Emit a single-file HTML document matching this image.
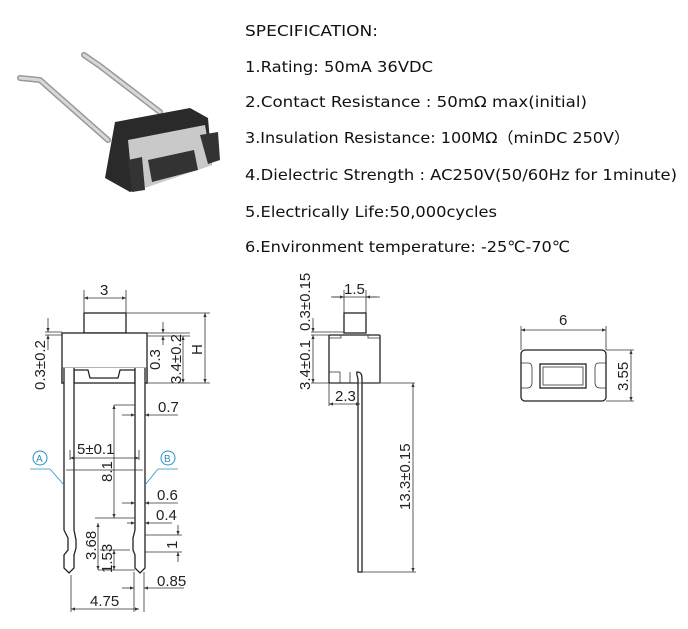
<!DOCTYPE html>
<html><head><meta charset="utf-8"><style>
html,body{margin:0;padding:0;background:#fff;width:688px;height:629px;overflow:hidden}
svg{display:block}
.t{font-family:"DejaVu Sans","Liberation Sans",sans-serif;font-size:15.5px;fill:#111}
.d{font-family:"Liberation Sans",sans-serif;font-size:15px;fill:#222}
.l{stroke:#333;stroke-width:0.8;fill:none}
.k{stroke:#222;stroke-width:1.3;fill:#fff}
</style></head><body>
<svg width="688" height="629" viewBox="0 0 688 629" xmlns="http://www.w3.org/2000/svg">
<defs>
<marker id="a" viewBox="0 0 10 10" refX="10" refY="5" markerWidth="7" markerHeight="5" orient="auto-start-reverse"><path d="M0,1 L10,5 L0,9 z" fill="#333"/></marker>
</defs>
<!-- photo -->
<g>
<path d="M20,78 L40,80 L108,140" stroke="#999" stroke-width="6" fill="none" stroke-linecap="round"/>
<path d="M20,78 L40,80 L108,140" stroke="#d8d8d8" stroke-width="3" fill="none" stroke-linecap="round"/>
<path d="M84,55 L100,66 L160,112" stroke="#999" stroke-width="6" fill="none" stroke-linecap="round"/>
<path d="M84,55 L100,66 L160,112" stroke="#d8d8d8" stroke-width="3" fill="none" stroke-linecap="round"/>
<path d="M115,122 L190,108 L208,118 L212,165 L130,192 L105,178 Z" fill="#2a2a2a"/>
<path d="M128,140 L205,125 L212,165 L133,192 Z" fill="#c9c9c9"/>
<path d="M148,160 L194,150 L198,170 L152,182 Z" fill="#333"/>
<path d="M128,160 L142,157 L145,190 L132,192 Z" fill="#333"/>
<path d="M200,135 L218,132 L220,160 L208,164 Z" fill="#333"/>
</g>
<!-- spec text -->
<text class="t" x="245" y="36" textLength="133" lengthAdjust="spacingAndGlyphs">SPECIFICATION:</text>
<text class="t" x="245" y="72" textLength="188" lengthAdjust="spacingAndGlyphs">1.Rating: 50mA 36VDC</text>
<text class="t" x="245" y="107" textLength="342" lengthAdjust="spacingAndGlyphs">2.Contact Resistance : 50mΩ max(initial)</text>
<text class="t" x="245" y="143" textLength="385" lengthAdjust="spacingAndGlyphs">3.Insulation Resistance: 100MΩ（minDC 250V）</text>
<text class="t" x="245" y="180" textLength="432" lengthAdjust="spacingAndGlyphs">4.Dielectric Strength : AC250V(50/60Hz for 1minute)</text>
<text class="t" x="245" y="217" textLength="252" lengthAdjust="spacingAndGlyphs">5.Electrically Life:50,000cycles</text>
<text class="t" x="245" y="252" textLength="325" lengthAdjust="spacingAndGlyphs">6.Environment temperature: -25℃-70℃</text>

<!-- left drawing -->
<g>
<rect class="k" x="84" y="313" width="42" height="20"/>
<rect class="k" x="62" y="333" width="85" height="50"/>
<line class="l" x1="62" y1="368" x2="147" y2="368"/>
<path class="k" d="M62,368 L62,383 L74,383 L74,370 L88,370 L90,378 L118,378 L120,370 L135,370 L135,383 L147,383 L147,368" fill="#fff"/>
<path class="k" d="M64,368 L64,530 L68,538 L68,550 L64,555 L64,568 L69,573 L74,568 L74,555 L76,548 L76,540 L74,530 L74,368" />
<path class="k" d="M135,368 L135,530 L133,538 L133,550 L135,555 L135,568 L140,573 L145,568 L145,555 L145,530 L145,368" />
<line class="l" x1="66" y1="470" x2="143" y2="470"/>
<!-- dims -->
<line class="l" x1="84" y1="290" x2="84" y2="313"/><line class="l" x1="126" y1="290" x2="126" y2="313"/>
<line class="l" x1="84" y1="298" x2="126" y2="298" marker-start="url(#a)" marker-end="url(#a)"/>
<text class="d" x="100" y="295">3</text>
<line class="l" x1="126" y1="313" x2="210" y2="313"/>
<line class="l" x1="147" y1="383" x2="210" y2="383"/>
<line class="l" x1="205" y1="313" x2="205" y2="383" marker-start="url(#a)" marker-end="url(#a)"/>
<text class="d" transform="translate(202,355) rotate(-90)">H</text>
<line class="l" x1="147" y1="333" x2="190" y2="333"/>
<line class="l" x1="147" y1="336" x2="190" y2="336"/>
<line class="l" x1="163" y1="322" x2="163" y2="333" marker-end="url(#a)"/>
<line class="l" x1="163" y1="345" x2="163" y2="336" marker-end="url(#a)"/>
<text class="d" transform="translate(160,370) rotate(-90)">0.3</text>
<line class="l" x1="183" y1="336" x2="183" y2="383" marker-start="url(#a)" marker-end="url(#a)"/>
<text class="d" transform="translate(181,384) rotate(-90)">3.4±0.2</text>
<line class="l" x1="45" y1="332" x2="62" y2="332"/><line class="l" x1="45" y1="335" x2="62" y2="335"/>
<line class="l" x1="48" y1="318" x2="48" y2="332" marker-end="url(#a)"/>
<line class="l" x1="48" y1="350" x2="48" y2="335" marker-end="url(#a)"/>
<text class="d" transform="translate(45,390) rotate(-90)">0.3±0.2</text>
<line class="l" x1="114" y1="405" x2="135" y2="405"/>
<line class="l" x1="114" y1="405" x2="114" y2="518" marker-start="url(#a)" marker-end="url(#a)"/>
<text class="d" transform="translate(112,482) rotate(-90)">8.1</text>
<line class="l" x1="122" y1="415" x2="135" y2="415" marker-end="url(#a)"/>
<line class="l" x1="178" y1="415" x2="145" y2="415" marker-end="url(#a)"/>
<text class="d" x="158" y="412">0.7</text>
<line class="l" x1="70" y1="450" x2="70" y2="460"/><line class="l" x1="139" y1="450" x2="139" y2="460"/>
<line class="l" x1="70" y1="458" x2="139" y2="458" marker-start="url(#a)" marker-end="url(#a)"/>
<text class="d" x="77" y="454">5±0.1</text>
<line class="l" x1="122" y1="503" x2="135" y2="503" marker-end="url(#a)"/>
<line class="l" x1="178" y1="503" x2="145" y2="503" marker-end="url(#a)"/>
<text class="d" x="157" y="500">0.6</text>
<line class="l" x1="95" y1="518" x2="135" y2="518"/>
<line class="l" x1="127" y1="523" x2="135" y2="523" marker-end="url(#a)"/>
<line class="l" x1="172" y1="523" x2="145" y2="523" marker-end="url(#a)"/>
<text class="d" x="156" y="520">0.4</text>
<line class="l" x1="145" y1="535" x2="182" y2="535"/><line class="l" x1="145" y1="552" x2="182" y2="552"/>
<line class="l" x1="178" y1="525" x2="178" y2="535" marker-end="url(#a)"/>
<line class="l" x1="178" y1="562" x2="178" y2="552" marker-end="url(#a)"/>
<text class="d" transform="translate(177,549) rotate(-90)">1</text>
<line class="l" x1="98" y1="523" x2="98" y2="570" marker-start="url(#a)" marker-end="url(#a)"/>
<text class="d" transform="translate(96,560) rotate(-90)">3.68</text>
<line class="l" x1="100" y1="550" x2="130" y2="550"/>
<line class="l" x1="114" y1="550" x2="114" y2="570" marker-start="url(#a)" marker-end="url(#a)"/>
<text class="d" transform="translate(112,573) rotate(-90)">1.53</text>
<line class="l" x1="98" y1="570" x2="135" y2="570"/>
<line class="l" x1="134" y1="572" x2="134" y2="612"/><line class="l" x1="144" y1="572" x2="144" y2="612"/>
<line class="l" x1="122" y1="588" x2="134" y2="588" marker-end="url(#a)"/>
<line class="l" x1="184" y1="588" x2="144" y2="588" marker-end="url(#a)"/>
<text class="d" x="157" y="586">0.85</text>
<line class="l" x1="71" y1="575" x2="71" y2="612"/>
<line class="l" x1="71" y1="609" x2="139" y2="609" marker-start="url(#a)" marker-end="url(#a)"/>
<text class="d" x="90" y="606">4.75</text>
<!-- A B -->
<circle cx="40" cy="458" r="7" fill="none" stroke="#2a8fc0" stroke-width="1"/>
<text x="36" y="462" font-family="Liberation Sans,sans-serif" font-size="10" fill="#2a8fc0">A</text>
<path d="M30,469 L50,469 L64,485" fill="none" stroke="#2a8fc0" stroke-width="0.8"/>
<circle cx="168" cy="458" r="7" fill="none" stroke="#2a8fc0" stroke-width="1"/>
<text x="164" y="462" font-family="Liberation Sans,sans-serif" font-size="10" fill="#2a8fc0">B</text>
<path d="M178,469 L158,469 L145,485" fill="none" stroke="#2a8fc0" stroke-width="0.8"/>
</g>

<!-- middle drawing -->
<g>
<rect class="k" x="344" y="313" width="22" height="20"/>
<rect class="k" x="329" y="335" width="51" height="48" rx="1"/>
<path class="l" d="M341,335 L341,338 L329,338 M368,335 L368,338 L380,338 M329,372 L340,372 L340,383 M350,372 L350,383"/>
<path class="k" d="M357,372 C362,372 362,376 362,380 L362,572 L358,572 L358,380 C358,377 356,374 357,372 Z"/>
<line class="l" x1="331" y1="297" x2="380" y2="297"/>
<line class="l" x1="344" y1="290" x2="344" y2="313"/><line class="l" x1="366" y1="290" x2="366" y2="313"/>
<line class="l" x1="333" y1="297" x2="344" y2="297" marker-end="url(#a)"/>
<line class="l" x1="377" y1="297" x2="366" y2="297" marker-end="url(#a)"/>
<text class="d" x="344" y="294">1.5</text>
<line class="l" x1="311" y1="332" x2="344" y2="332"/><line class="l" x1="311" y1="335" x2="329" y2="335"/>
<line class="l" x1="311" y1="383" x2="415" y2="383"/>
<line class="l" x1="313" y1="318" x2="313" y2="332" marker-end="url(#a)"/>
<line class="l" x1="313" y1="335" x2="313" y2="383" marker-start="url(#a)" marker-end="url(#a)"/>
<text class="d" transform="translate(310,331) rotate(-90)">0.3±0.15</text>
<text class="d" transform="translate(310,390) rotate(-90)">3.4±0.1</text>
<line class="l" x1="329" y1="383" x2="329" y2="406"/>
<line class="l" x1="329" y1="404" x2="360" y2="404" marker-start="url(#a)" marker-end="url(#a)"/>
<text class="d" x="335" y="401">2.3</text>
<line class="l" x1="362" y1="572" x2="416" y2="572"/>
<line class="l" x1="413" y1="383" x2="413" y2="572" marker-start="url(#a)" marker-end="url(#a)"/>
<text class="d" transform="translate(410,510) rotate(-90)">13.3±0.15</text>
</g>

<!-- right drawing -->
<g>
<rect class="k" x="521" y="350" width="85" height="51" rx="4"/>
<rect class="k" x="540" y="364" width="46" height="24"/>
<rect class="l" x="543" y="367" width="40" height="18"/>
<path class="l" d="M521,363 L528,363 C532,363 532,366 532,370 L532,382 C532,386 530,388 527,388 L521,388 M606,363 L599,363 C595,363 595,366 595,370 L595,382 C595,386 597,388 600,388 L606,388"/>
<line class="l" x1="521" y1="326" x2="521" y2="350"/><line class="l" x1="606" y1="326" x2="606" y2="350"/>
<line class="l" x1="521" y1="330" x2="606" y2="330" marker-start="url(#a)" marker-end="url(#a)"/>
<text class="d" x="559" y="325">6</text>
<line class="l" x1="606" y1="350" x2="634" y2="350"/><line class="l" x1="606" y1="401" x2="634" y2="401"/>
<line class="l" x1="631" y1="350" x2="631" y2="401" marker-start="url(#a)" marker-end="url(#a)"/>
<text class="d" transform="translate(628,391) rotate(-90)">3.55</text>
</g>
</svg>
</body></html>
